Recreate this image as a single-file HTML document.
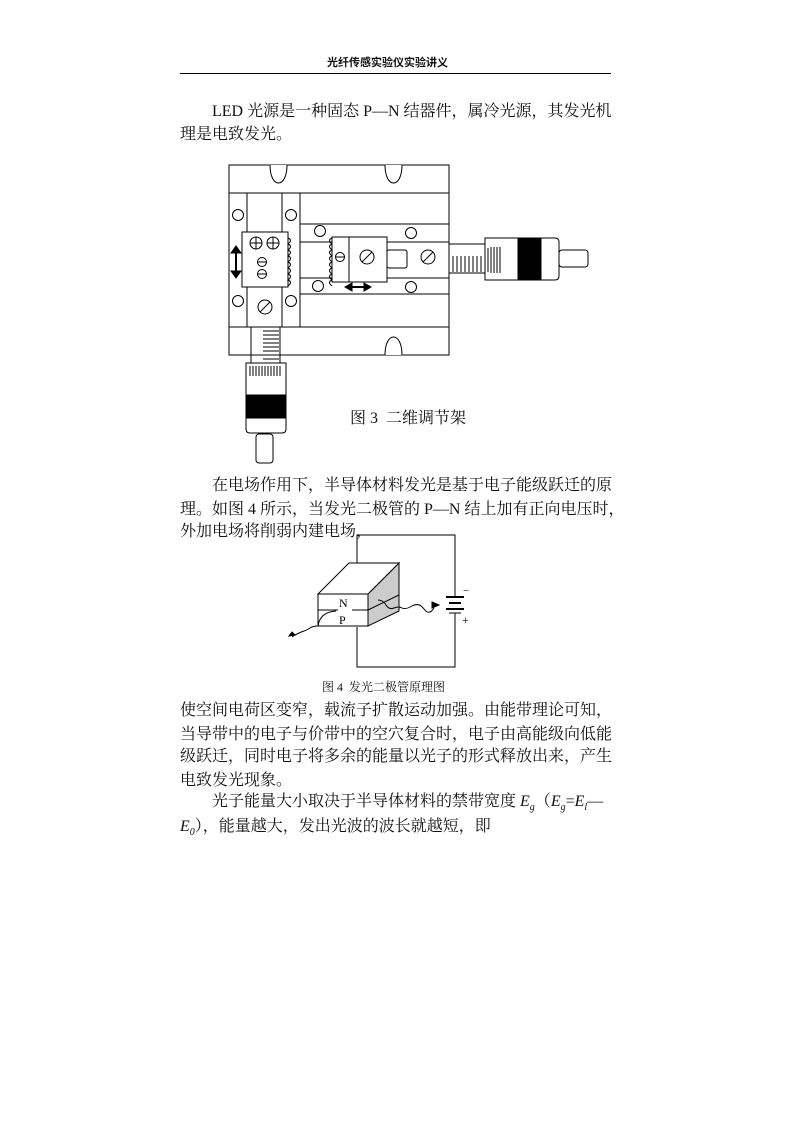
<!DOCTYPE html>
<html><head><meta charset="utf-8"><style>
body{margin:0;background:#fff;}
.p{position:relative;width:794px;height:1123px;font-family:"Liberation Serif","Noto Serif CJK SC",serif;color:#111;}
.t{position:absolute;font-size:16px;white-space:nowrap;}
svg{position:absolute;left:0;top:0;}
</style></head><body><div class="p">
<div class="t" style="left:327px;top:54px;font-size:11px;font-family:'Liberation Sans','Noto Sans CJK SC',sans-serif;font-weight:bold;">光纤传感实验仪实验讲义</div>
<div style="position:absolute;left:180px;top:73px;width:431px;height:1px;background:#000"></div>
<div class="t" style="left:212px;top:98px">LED 光源是一种固态 P—N 结器件，属冷光源，其发光机</div>
<div class="t" style="left:180px;top:121px">理是电致发光。</div>
<div class="t" style="left:212px;top:472px">在电场作用下，半导体材料发光是基于电子能级跃迁的原</div>
<div class="t" style="left:180px;top:496px">理。如图 4 所示，当发光二极管的 P—N 结上加有正向电压时，</div>
<div class="t" style="left:180px;top:518px">外加电场将削弱内建电场，</div>
<div class="t" style="left:350px;top:405px;font-size:16px">图 3&nbsp; 二维调节架</div>
<div class="t" style="left:322px;top:678px;font-size:12px">图 4&nbsp; 发光二极管原理图</div>
<div class="t" style="left:180px;top:697px">使空间电荷区变窄，载流子扩散运动加强。由能带理论可知，</div>
<div class="t" style="left:180px;top:721px">当导带中的电子与价带中的空穴复合时，电子由高能级向低能</div>
<div class="t" style="left:180px;top:743px">级跃迁，同时电子将多余的能量以光子的形式释放出来，产生</div>
<div class="t" style="left:180px;top:767px">电致发光现象。</div>
<div class="t" style="left:212px;top:788px">光子能量大小取决于半导体材料的禁带宽度 <i>E<sub style="font-size:10px">g</sub></i>（<i>E<sub style="font-size:10px">g</sub></i>=<i>E<sub style="font-size:10px">l</sub></i>—</div>
<div class="t" style="left:180px;top:813px"><i>E<sub style="font-size:10px">0</sub></i>），能量越大，发出光波的波长就越短，即</div>
<svg width="794" height="1123" fill="none" stroke="#000" stroke-width="1">
<rect x="229" y="165" width="220" height="190"/>
<line x1="229" y1="193" x2="449" y2="193"/><line x1="229" y1="327" x2="449" y2="327"/>
<path d="M270 165 C270 189 287 189 287 165" fill="#fff"/>
<path d="M385 165 C385 189 402 189 402 165" fill="#fff"/>
<path d="M385 355 C385 331 402 331 402 355" fill="#fff"/>
<rect x="229" y="193" width="71" height="134" fill="#fff"/>
<line x1="247" y1="193" x2="247" y2="327"/><line x1="282" y1="193" x2="282" y2="327"/>
<g fill="#fff"><circle cx="238" cy="215" r="5.5"/><circle cx="291" cy="215" r="5.5"/><circle cx="238" cy="301" r="5.5"/><circle cx="291" cy="301" r="5.5"/></g>
<rect x="242" y="232" width="46" height="55" fill="#fff"/>
<circle cx="256" cy="243" r="6"/><path d="M250 243h12M256 237v12"/>
<circle cx="273" cy="243" r="6"/><path d="M267 243h12M273 237v12"/>
<circle cx="262" cy="262" r="4.5"/><path d="M257.5 262h9"/>
<circle cx="262" cy="274" r="4.5"/><path d="M257.5 274h9"/>
<path d="M288 238 q5 2 0 6 q5 2 0 6 q5 2 0 6 q5 2 0 6 q5 2 0 6 q5 2 0 6 q5 2 0 6 q5 2 0 6"/>
<circle cx="265" cy="307" r="7"/><path d="M260 312l10-10"/>
<path d="M236 247v30" stroke-width="2"/><path d="M231 253l5-7 5 7zM231 271l5 7 5-7z" fill="#000"/>
<rect x="300" y="224" width="149" height="70" fill="#fff"/>
<line x1="300" y1="242" x2="449" y2="242"/><line x1="300" y1="278" x2="449" y2="278"/>
<g fill="#fff"><circle cx="320" cy="231" r="5.5"/><circle cx="411" cy="233" r="5.5"/><circle cx="318" cy="286" r="5.5"/><circle cx="411" cy="287" r="5.5"/></g>
<path d="M332 238 q-5 2 0 6 q-5 2 0 6 q-5 2 0 6 q-5 2 0 6 q-5 2 0 6 q-5 2 0 6 q-5 2 0 6 q-5 2 0 6"/>
<rect x="387" y="250" width="20" height="18" rx="2" fill="#fff"/>
<rect x="332" y="237" width="55" height="45" fill="#fff"/>
<line x1="349" y1="237" x2="349" y2="282"/>
<circle cx="340" cy="257" r="4.5"/><path d="M335.5 257h9"/>
<circle cx="367" cy="257" r="7"/><path d="M362 262l10-10"/>
<circle cx="428" cy="257" r="7"/><path d="M423 262l10-10"/>
<path d="M347 287h22" stroke-width="2"/><path d="M352 283l-7 4 7 4zM364 283l7 4-7 4z" fill="#000"/>
<rect x="449" y="244" width="36" height="29"/>
<path d="M453 256v16M457 256v16M461 256v16M465 256v16M469 256v16M473 256v16M477 256v16M481 256v16"/>
<path d="M485 238h70q4 0 4 4v34q0 4-4 4h-70z" fill="#fff"/>
<path d="M488 248v24M491 247v26M494 247v26M497 247v26M500 247v26"/>
<rect x="518" y="238" width="23" height="42" fill="#000"/>
<rect x="559" y="250" width="29" height="17" rx="3"/>
<rect x="251" y="327" width="29" height="36"/>
<path d="M263 331h16M263 335h16M263 339h16M263 343h16M263 347h16M263 351h16M263 355h16M263 359h16"/>
<path d="M246 363h40v66q0 4-4 4h-32q-4 0-4-4z" fill="#fff"/>
<path d="M250 366v10M253 366v10M256 366v10M259 366v10M262 366v10M265 366v10M268 366v10M271 366v10M274 366v10M277 366v10M280 366v10"/>
<rect x="246" y="395" width="40" height="23" fill="#000"/>
<rect x="256" y="434" width="17" height="29" rx="3"/>
<path d="M357 577V535h98v62M455 613v54h-98v-40"/>
<path d="M446 597h18M449 603h12" stroke-width="2"/><path d="M446 609h18" stroke-width="2"/><path d="M449 613h12"/>
<text x="463" y="594" font-size="11" fill="#000" stroke="none" font-family="Liberation Serif">−</text>
<text x="462" y="624" font-size="12" fill="#000" stroke="none" font-family="Liberation Serif">+</text>
<path d="M368 594L399 563V611L368 626z" fill="#ccc"/>
<path d="M318 594L349 563H399L368 594z" fill="#fff"/>
<rect x="318" y="594" width="50" height="32" fill="#fff"/>
<path d="M318 610h20M352 610h16M368 610L399 595"/>
<text x="339" y="607" font-size="12" fill="#000" stroke="none" font-family="Liberation Serif">N</text>
<text x="339" y="624" font-size="12" fill="#000" stroke="none" font-family="Liberation Serif">P</text>
<path d="M318 626q2-14 18-15"/>
<path d="M318 626q-5 0-8 2t-6 3-5 2-4 2-3 2"/><path d="M289 636l6-1-3-3z" fill="#000"/>
<path d="M378 600q5 0 8 5t8 3 8 0 10-2 12 3 10-1"/><path d="M432 602l7 3-7 3z" fill="#000"/>
</svg>
</div></body></html>
